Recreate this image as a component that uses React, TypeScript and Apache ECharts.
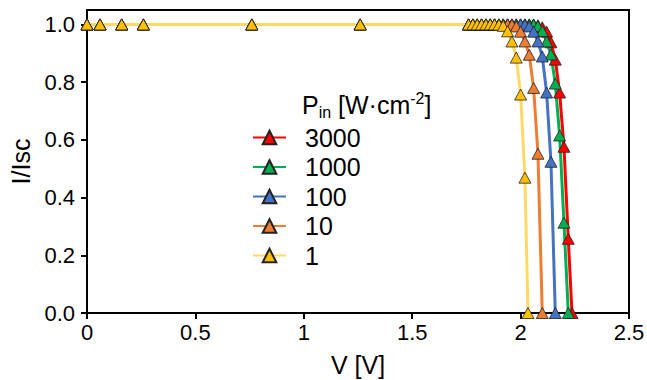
import React, { useEffect, useRef } from "react";
import * as echarts from "echarts";

const seriesNames = ["3000", "1000", "100", "10", "1"];
const markerColors = ["#FF0000", "#00B050", "#4472C4", "#ED7D31", "#FFC000"];
const lineColors = ["#FF0000", "#00B050", "#4472C4", "#ED7D31", "#FFD966"];

const v3000 = [0, 0.06, 0.16, 0.26, 0.76, 1.26, 1.76, 1.78, 1.8, 1.82, 1.84, 1.86, 1.88, 1.9, 1.92, 1.94, 1.96, 1.98, 2.0, 2.02, 2.04, 2.06, 2.08, 2.1, 2.12, 2.14, 2.16, 2.18, 2.2, 2.22, 2.237];
const i3000 = [1, 1, 1, 1, 1, 1, 1, 1, 1, 1, 1, 1, 1, 1, 1, 1, 1, 1, 1, 1, 1, 1, 0.997, 0.99, 0.975, 0.938, 0.878, 0.764, 0.576, 0.257, 0];

const v1000 = [0, 0.06, 0.16, 0.26, 0.76, 1.26, 1.76, 1.78, 1.8, 1.82, 1.84, 1.86, 1.88, 1.9, 1.92, 1.94, 1.96, 1.98, 2.0, 2.02, 2.04, 2.06, 2.08, 2.1, 2.12, 2.14, 2.16, 2.18, 2.2, 2.22];
const i1000 = [1, 1, 1, 1, 1, 1, 1, 1, 1, 1, 1, 1, 1, 1, 1, 1, 1, 1, 1, 1, 1, 0.999, 0.994, 0.977, 0.941, 0.896, 0.795, 0.615, 0.313, 0];

const v100 = [0, 0.06, 0.16, 0.26, 0.76, 1.26, 1.76, 1.78, 1.8, 1.82, 1.84, 1.86, 1.88, 1.9, 1.92, 1.94, 1.96, 1.98, 2.0, 2.02, 2.04, 2.06, 2.08, 2.1, 2.12, 2.14, 2.16];
const i100 = [1, 1, 1, 1, 1, 1, 1, 1, 1, 1, 1, 1, 1, 1, 1, 1, 1, 1, 1, 0.999, 0.993, 0.975, 0.941, 0.889, 0.764, 0.524, 0];

const v10 = [0, 0.06, 0.16, 0.26, 0.76, 1.26, 1.76, 1.78, 1.8, 1.82, 1.84, 1.86, 1.88, 1.9, 1.92, 1.94, 1.96, 1.98, 2.0, 2.02, 2.04, 2.06, 2.08, 2.1];
const i10 = [1, 1, 1, 1, 1, 1, 1, 1, 1, 1, 1, 1, 1, 1, 1, 1, 0.999, 0.993, 0.975, 0.941, 0.895, 0.78, 0.552, 0];

const v1 = [0, 0.06, 0.16, 0.26, 0.76, 1.26, 1.76, 1.78, 1.8, 1.82, 1.84, 1.86, 1.88, 1.9, 1.92, 1.94, 1.96, 1.98, 2.0, 2.02, 2.034];
const i1 = [1, 1, 1, 1, 1, 1, 1, 1, 1, 1, 1, 1, 1, 0.999, 0.995, 0.976, 0.941, 0.885, 0.757, 0.469, 0];

const voltages = [v3000, v1000, v100, v10, v1];
const currents = [i3000, i1000, i100, i10, i1];

const xTicks = [0, 0.5, 1, 1.5, 2, 2.5];
const yTicks = [0, 0.2, 0.4, 0.6, 0.8, 1.0];

const FONT = "'Liberation Sans', Arial, sans-serif";

export default function App() {
  const ref = useRef<HTMLDivElement>(null);
  useEffect(() => {
    if (!ref.current) return;
    const chart = echarts.init(ref.current, null, { renderer: "svg" });
    const series = seriesNames.map((name, k) => ({
      name,
      type: "line",
      data: voltages[k].map((v, j) => [v, currents[k][j]]),
      symbol: "triangle",
      symbolSize: [12, 11],
      showAllSymbol: true,
      lineStyle: { color: lineColors[k], width: 3 },
      itemStyle: { color: markerColors[k], borderColor: "#222", borderWidth: 0.8 },
      emphasis: { disabled: true },
    }));
    chart.setOption({
      animation: false,
      backgroundColor: "#fff",
      grid: {
        left: 87,
        right: 18,
        top: 10,
        bottom: 67,
        show: true,
        borderColor: "#000",
        borderWidth: 2,
        containLabel: false,
        outerBoundsMode: "none",
      },
      xAxis: {
        type: "value",
        min: 0,
        max: 2.5,
        interval: 0.5,
        name: "V [V]",
        nameLocation: "middle",
        nameGap: 39,
        nameTextStyle: { fontFamily: FONT, fontSize: 25, color: "#000" },
        axisLine: { show: true, onZero: false, lineStyle: { color: "#000", width: 2 } },
        axisTick: { show: true, inside: false, length: 6, lineStyle: { color: "#000", width: 2 }, customValues: xTicks },
        axisLabel: { fontFamily: FONT, fontSize: 22, color: "#000", margin: 8, customValues: xTicks, formatter: (v: number) => String(v) },
        splitLine: { show: false },
      },
      yAxis: {
        type: "value",
        min: 0,
        max: 1.05,
        name: "I/Isc",
        nameLocation: "middle",
        nameGap: 53,
        nameTextStyle: { fontFamily: FONT, fontSize: 25, color: "#000" },
        axisLine: { show: true, onZero: false, lineStyle: { color: "#000", width: 2 } },
        axisTick: { show: true, inside: false, length: 6, lineStyle: { color: "#000", width: 2 }, customValues: yTicks },
        axisLabel: { fontFamily: FONT, fontSize: 22, color: "#000", margin: 12, customValues: yTicks, formatter: (v: number) => v.toFixed(1) },
        splitLine: { show: false },
      },
      legend: {
        orient: "vertical",
        left: 252,
        top: 125,
        padding: 0,
        itemWidth: 33,
        itemHeight: 17,
        itemGap: 4.5,
        selectedMode: false,
        data: seriesNames,
        textStyle: { fontFamily: FONT, fontSize: 25, color: "#000", lineHeight: 25, padding: [0, 0, 0, 14] },
      },
      graphic: [
        {
          type: "text",
          left: 302,
          top: 90,
          style: {
            text: "{a|P}{sub|in}{a| [W·cm}{sup|-2}{a|]}",
            rich: {
              a: { fontFamily: FONT, fontSize: 25, lineHeight: 30, fill: "#000", verticalAlign: "middle" },
              sub: { fontFamily: FONT, fontSize: 16, lineHeight: 14, fill: "#000", verticalAlign: "bottom" },
              sup: { fontFamily: FONT, fontSize: 16, lineHeight: 14, fill: "#000", verticalAlign: "top" },
            },
          },
        },
      ],
      series,
    });
    return () => chart.dispose();
  }, []);
  return <div ref={ref} style={{ position: "fixed", left: 0, top: 0, width: 647, height: 380 }} />;
}
